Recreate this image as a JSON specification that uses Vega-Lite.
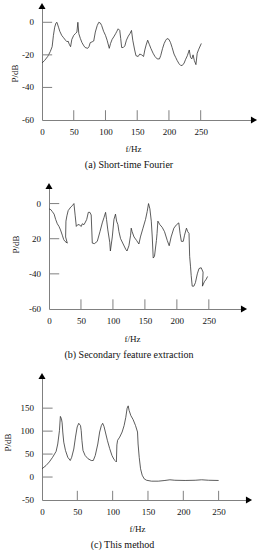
{
  "$schema": "https://vega.github.io/schema/vega-lite/v6.json",
  "padding": {"left": 3, "top": 2, "right": 0, "bottom": 0},
  "spacing": 12,
  "config": {
    "view": {"stroke": null},
    "font": "Liberation Serif",
    "axis": {"grid": false, "ticks": false, "labelFontSize": 9, "labelColor": "#111", "titleFontSize": 9, "titleFontWeight": "normal", "titleColor": "#111", "domainColor": "#808080", "labelFlush": false, "labelOverlap": false},
    "title": {"fontSize": 10, "fontWeight": "normal", "color": "#111", "font": "Liberation Serif"},
    "text": {"font": "Liberation Serif", "fontSize": 9, "color": "#111"}
  },
  "datasets": {
    "a": [
      {"f":0,"p":-25},{"f":4,"p":-23.5},{"f":9,"p":-21},{"f":13,"p":-18},{"f":16,"p":-15},{"f":18,"p":-8},{"f":20,"p":-3},{"f":22,"p":-0.5},{"f":23.5,"p":0},{"f":26,"p":-3},{"f":28,"p":-5.5},{"f":31,"p":-8},{"f":34,"p":-9.5},{"f":37,"p":-11},{"f":39.5,"p":-12},{"f":41,"p":-11.5},{"f":43,"p":-13.5},{"f":45,"p":-15},{"f":47,"p":-10.5},{"f":50,"p":-8},{"f":52.5,"p":-7},{"f":55,"p":-6},{"f":56.5,"p":0},{"f":58,"p":-7},{"f":60.5,"p":-10},{"f":63,"p":-12.5},{"f":66,"p":-14.5},{"f":68,"p":-15.5},{"f":72,"p":-16},{"f":74,"p":-15},{"f":76,"p":-12.5},{"f":79,"p":-12},{"f":81.5,"p":-11.5},{"f":84,"p":-6},{"f":87,"p":-2},{"f":89.5,"p":0},{"f":92,"p":-0.5},{"f":94,"p":-2},{"f":97,"p":-5.5},{"f":100,"p":-8},{"f":102.6,"p":-11},{"f":106,"p":-16},{"f":108,"p":-13},{"f":110.5,"p":-10.5},{"f":113,"p":-9},{"f":116,"p":-7},{"f":118,"p":-5.5},{"f":120,"p":-4},{"f":122.5,"p":-5},{"f":124,"p":-10},{"f":125.5,"p":-15.5},{"f":128,"p":-15.5},{"f":130.5,"p":-14.5},{"f":133,"p":-11},{"f":136,"p":-8.5},{"f":138.5,"p":-7},{"f":141,"p":-5},{"f":143,"p":-11},{"f":146,"p":-17},{"f":148,"p":-20.5},{"f":151.5,"p":-21},{"f":154,"p":-19.5},{"f":157,"p":-20},{"f":160,"p":-21},{"f":162,"p":-17},{"f":164,"p":-14},{"f":166.5,"p":-11},{"f":169,"p":-13.5},{"f":171.5,"p":-16},{"f":175,"p":-19},{"f":178,"p":-21},{"f":181.5,"p":-22.5},{"f":185,"p":-22.5},{"f":187,"p":-20.5},{"f":190,"p":-16},{"f":192.5,"p":-13},{"f":195,"p":-11},{"f":197,"p":-10},{"f":200,"p":-10.5},{"f":202.5,"p":-12.5},{"f":205,"p":-15.5},{"f":208,"p":-19.5},{"f":210.5,"p":-21.5},{"f":213,"p":-23.5},{"f":216,"p":-25.5},{"f":218.5,"p":-26.5},{"f":221,"p":-26.5},{"f":224,"p":-25},{"f":226,"p":-23},{"f":229,"p":-20.5},{"f":232,"p":-17},{"f":234,"p":-21.5},{"f":236,"p":-22.5},{"f":238,"p":-20},{"f":240,"p":-23.5},{"f":242.5,"p":-26},{"f":244.5,"p":-19},{"f":247,"p":-16.5},{"f":251,"p":-13}
    ],
    "b": [
      {"f":0,"p":-3},{"f":3,"p":-3.5},{"f":5,"p":-4.5},{"f":8,"p":-6},{"f":10.4,"p":-9},{"f":13,"p":-11.5},{"f":15.6,"p":-13},{"f":18,"p":-15},{"f":20.8,"p":-18},{"f":23,"p":-20.5},{"f":25,"p":-21.5},{"f":28.6,"p":-22.5},{"f":26,"p":-19},{"f":26.5,"p":-10},{"f":28,"p":-7},{"f":30,"p":-4},{"f":34,"p":-2},{"f":37,"p":-1},{"f":39,"p":0},{"f":41,"p":-7},{"f":42.7,"p":-13},{"f":45,"p":-12},{"f":47,"p":-12},{"f":50.5,"p":-13},{"f":52,"p":-11.5},{"f":54.7,"p":-12},{"f":57,"p":-10.5},{"f":59,"p":-9},{"f":61.5,"p":-5},{"f":64,"p":-5},{"f":66,"p":-6.5},{"f":67.7,"p":-22.5},{"f":71,"p":-22.8},{"f":75.5,"p":-21.5},{"f":79.7,"p":-16},{"f":83.3,"p":-11},{"f":86,"p":-8},{"f":88.5,"p":-5},{"f":90,"p":-9},{"f":92,"p":-15},{"f":95,"p":-22},{"f":96,"p":-27},{"f":99,"p":-19},{"f":101.6,"p":-9},{"f":104,"p":-6},{"f":105.7,"p":-10},{"f":107.8,"p":-12},{"f":109.4,"p":-16},{"f":112,"p":-20},{"f":116,"p":-23},{"f":120,"p":-26},{"f":122,"p":-27},{"f":125,"p":-24},{"f":127.6,"p":-18},{"f":128.6,"p":-14},{"f":130,"p":-16},{"f":133,"p":-19},{"f":137,"p":-21},{"f":140.6,"p":-23},{"f":143,"p":-19},{"f":147,"p":-14},{"f":151,"p":-9},{"f":153.6,"p":-4.5},{"f":155.7,"p":0},{"f":157.8,"p":-3},{"f":160,"p":-10},{"f":161.5,"p":-19},{"f":163,"p":-31},{"f":165,"p":-30},{"f":168,"p":-21},{"f":169,"p":-17},{"f":170.3,"p":-10},{"f":173.4,"p":-12},{"f":177,"p":-13.5},{"f":180.7,"p":-16},{"f":185,"p":-21},{"f":188,"p":-24},{"f":191,"p":-19},{"f":195.3,"p":-14},{"f":199.5,"p":-12},{"f":203,"p":-11},{"f":205,"p":-17},{"f":207,"p":-21.5},{"f":210,"p":-21.5},{"f":212,"p":-18},{"f":215,"p":-14},{"f":217,"p":-16},{"f":219,"p":-17},{"f":220,"p":-30},{"f":221.4,"p":-36},{"f":222.4,"p":-41},{"f":224,"p":-47},{"f":226.6,"p":-47},{"f":229,"p":-45},{"f":232,"p":-40},{"f":234.6,"p":-37},{"f":238,"p":-36.5},{"f":241,"p":-39},{"f":240,"p":-47},{"f":243,"p":-44.5},{"f":246,"p":-43},{"f":248,"p":-41.5}
    ],
    "c": [
      {"f":0,"p":18},{"f":5.7,"p":25},{"f":10.4,"p":33},{"f":15,"p":43},{"f":20,"p":56},{"f":22.3,"p":72},{"f":24.7,"p":101},{"f":26,"p":132},{"f":27.5,"p":127},{"f":28.5,"p":118},{"f":29.4,"p":98},{"f":30.8,"p":76},{"f":33.2,"p":58},{"f":36.5,"p":43},{"f":40,"p":36},{"f":42,"p":43},{"f":45,"p":61},{"f":47.4,"p":87},{"f":49.8,"p":109},{"f":52,"p":117},{"f":54.5,"p":112},{"f":55.5,"p":101},{"f":56.5,"p":80},{"f":58,"p":58},{"f":61,"p":47},{"f":65,"p":40},{"f":69.7,"p":36},{"f":72.6,"p":36},{"f":75.4,"p":47},{"f":79,"p":72},{"f":81.6,"p":98},{"f":84,"p":112},{"f":85.9,"p":117},{"f":87.8,"p":110},{"f":89.7,"p":98},{"f":92.5,"p":80},{"f":95.8,"p":62},{"f":99,"p":47},{"f":102,"p":38},{"f":104,"p":35},{"f":105.3,"p":33},{"f":106,"p":70},{"f":107,"p":80},{"f":110,"p":87},{"f":113.4,"p":98},{"f":116.2,"p":112},{"f":118.6,"p":130},{"f":120.5,"p":150},{"f":122,"p":155},{"f":123.3,"p":145},{"f":125.7,"p":134},{"f":129,"p":125},{"f":132.4,"p":112},{"f":135.2,"p":98},{"f":136,"p":72},{"f":137.6,"p":43},{"f":139.5,"p":18},{"f":141.8,"p":4},{"f":144.7,"p":-4},{"f":148,"p":-7},{"f":155,"p":-9},{"f":164.6,"p":-9},{"f":174,"p":-7.5},{"f":181,"p":-6},{"f":188,"p":-7},{"f":202.6,"p":-7.5},{"f":216.8,"p":-7},{"f":226,"p":-6},{"f":235.8,"p":-7},{"f":250,"p":-7.5}
    ],
    "xt": [{"t":50},{"t":100},{"t":150},{"t":200},{"t":250}],
    "yta": [{"t":0},{"t":-20},{"t":-40}],
    "ytc": [{"t":0},{"t":50},{"t":100},{"t":150}],
    "yla": [{"t":-60,"lab":"-60"},{"t":-40,"lab":"-40"},{"t":-20,"lab":"-20"},{"t":0,"lab":"0"}],
    "ylb": [{"t":-60,"lab":"-60"},{"t":-40,"lab":"-40"},{"t":-20,"lab":"20"},{"t":0,"lab":"0"}],
    "ylc": [{"t":-50,"lab":"-50"},{"t":0,"lab":"0"},{"t":50,"lab":"50"},{"t":100,"lab":"100"},{"t":150,"lab":"150"}]
  },
  "vconcat": [
    {
      "width": 212, "height": 114,
      "title": {"text": "(a) Short-time Fourier", "orient": "bottom", "dx": -19, "offset": 7},
      "layer": [
        {
          "data": {"name": "a"},
          "mark": {"type": "line", "color": "#333", "strokeWidth": 0.8},
          "encoding": {
            "x": {"field": "f", "type": "quantitative", "scale": {"domain": [0, 334], "nice": false, "zero": false},
                  "axis": {"values": [0, 50, 100, 150, 200, 250], "title": "f/Hz", "labelPadding": 7, "titleX": 91, "titleY": 28, "titleBaseline": "middle"}},
            "y": {"field": "p", "type": "quantitative", "scale": {"domain": [-60, 10], "nice": false, "zero": false},
                  "axis": {"values": [-60, 0], "labels": false, "title": "P/dB", "titleX": -28, "titleY": 67, "titleBaseline": "middle", "titleAlign": "center"}},
            "order": {"value": null}
          }
        },
        {
          "data": {"name": "yla"},
          "mark": {"type": "text", "align": "right", "baseline": "middle", "dx": -8},
          "encoding": {"y": {"field": "t", "type": "quantitative"}, "x": {"datum": 0, "type": "quantitative"}, "text": {"field": "lab"}}
        },
        {
          "data": {"name": "yta"},
          "mark": {"type": "rule", "color": "#808080", "strokeWidth": 1},
          "encoding": {"y": {"field": "t", "type": "quantitative"}, "x": {"datum": 0, "type": "quantitative"}, "x2": {"datum": 16}}
        },
        {
          "data": {"name": "xt"},
          "mark": {"type": "rule", "color": "#808080", "strokeWidth": 1},
          "encoding": {"x": {"field": "t", "type": "quantitative"}, "y": {"datum": -60, "type": "quantitative"}, "y2": {"datum": -54}}
        },
        {
          "data": {"values": [{}]},
          "mark": {"type": "point", "shape": "triangle-up", "filled": true, "color": "#000", "size": 50, "opacity": 1},
          "encoding": {"x": {"datum": 0, "type": "quantitative"}, "y": {"datum": 10, "type": "quantitative"}}
        },
        {
          "data": {"values": [{}]},
          "mark": {"type": "point", "shape": "triangle-right", "filled": true, "color": "#000", "size": 50, "opacity": 1},
          "encoding": {"x": {"datum": 334, "type": "quantitative"}, "y": {"datum": -60, "type": "quantitative"}}
        }
      ]
    },
    {
      "width": 202, "height": 123,
      "title": {"text": "(b) Secondary feature extraction", "orient": "bottom", "dx": -14, "offset": 7},
      "layer": [
        {
          "data": {"name": "b"},
          "mark": {"type": "line", "color": "#333", "strokeWidth": 0.8},
          "encoding": {
            "x": {"field": "f", "type": "quantitative", "scale": {"domain": [0, 305], "range": [7, 202], "nice": false, "zero": false},
                  "axis": {"values": [0, 50, 100, 150, 200, 250], "title": "f/Hz", "labelPadding": 7, "titleX": 90, "titleY": 29, "titleBaseline": "middle"}},
            "y": {"field": "p", "type": "quantitative", "scale": {"domain": [-60, 10], "nice": false, "zero": false},
                  "axis": {"values": [-60, 0], "labels": false, "title": "P/dB", "offset": -7, "titleX": -34, "titleY": 58, "titleBaseline": "middle", "titleAlign": "center"}},
            "order": {"value": null}
          }
        },
        {
          "data": {"name": "ylb"},
          "mark": {"type": "text", "align": "right", "baseline": "middle", "dx": -8},
          "encoding": {"y": {"field": "t", "type": "quantitative"}, "x": {"datum": 0, "type": "quantitative"}, "text": {"field": "lab"}}
        },
        {
          "data": {"name": "yta"},
          "mark": {"type": "rule", "color": "#808080", "strokeWidth": 1},
          "encoding": {"y": {"field": "t", "type": "quantitative"}, "x": {"datum": 0, "type": "quantitative"}, "x2": {"datum": 16}}
        },
        {
          "data": {"name": "xt"},
          "mark": {"type": "rule", "color": "#808080", "strokeWidth": 1},
          "encoding": {"x": {"field": "t", "type": "quantitative"}, "y": {"datum": -60, "type": "quantitative"}, "y2": {"datum": -54.5}}
        },
        {
          "data": {"values": [{}]},
          "mark": {"type": "point", "shape": "triangle-up", "filled": true, "color": "#000", "size": 50, "opacity": 1},
          "encoding": {"x": {"datum": 0, "type": "quantitative"}, "y": {"datum": 10, "type": "quantitative"}}
        },
        {
          "data": {"values": [{}]},
          "mark": {"type": "point", "shape": "triangle-right", "filled": true, "color": "#000", "size": 50, "opacity": 1},
          "encoding": {"x": {"datum": 305, "type": "quantitative"}, "y": {"datum": -60, "type": "quantitative"}}
        }
      ]
    },
    {
      "width": 207, "height": 124,
      "title": {"text": "(c) This method", "orient": "bottom", "dx": -23, "offset": 7},
      "layer": [
        {
          "data": {"name": "c"},
          "mark": {"type": "line", "color": "#333", "strokeWidth": 0.8},
          "encoding": {
            "x": {"field": "f", "type": "quantitative", "scale": {"domain": [0, 293], "nice": false, "zero": false},
                  "axis": {"values": [0, 50, 100, 150, 200, 250], "title": "f/Hz", "labelPadding": 7, "titleX": 95, "titleY": 28, "titleBaseline": "middle"}},
            "y": {"field": "p", "type": "quantitative", "scale": {"domain": [-50, 220], "nice": false, "zero": false},
                  "axis": {"values": [-50, 0], "labels": false, "title": "P/dB", "titleX": -35, "titleY": 66, "titleBaseline": "middle", "titleAlign": "center"}},
            "order": {"value": null}
          }
        },
        {
          "data": {"name": "ylc"},
          "mark": {"type": "text", "align": "right", "baseline": "middle", "dx": -8},
          "encoding": {"y": {"field": "t", "type": "quantitative"}, "x": {"datum": 0, "type": "quantitative"}, "text": {"field": "lab"}}
        },
        {
          "data": {"name": "ytc"},
          "mark": {"type": "rule", "color": "#808080", "strokeWidth": 1},
          "encoding": {"y": {"field": "t", "type": "quantitative"}, "x": {"datum": 0, "type": "quantitative"}, "x2": {"datum": 15}}
        },
        {
          "data": {"name": "xt"},
          "mark": {"type": "rule", "color": "#808080", "strokeWidth": 1},
          "encoding": {"x": {"field": "t", "type": "quantitative"}, "y": {"datum": -50, "type": "quantitative"}, "y2": {"datum": -30}}
        },
        {
          "data": {"values": [{}]},
          "mark": {"type": "point", "shape": "triangle-up", "filled": true, "color": "#000", "size": 50, "opacity": 1},
          "encoding": {"x": {"datum": 0, "type": "quantitative"}, "y": {"datum": 220, "type": "quantitative"}}
        },
        {
          "data": {"values": [{}]},
          "mark": {"type": "point", "shape": "triangle-right", "filled": true, "color": "#000", "size": 50, "opacity": 1},
          "encoding": {"x": {"datum": 293, "type": "quantitative"}, "y": {"datum": -50, "type": "quantitative"}}
        }
      ]
    }
  ]
}
